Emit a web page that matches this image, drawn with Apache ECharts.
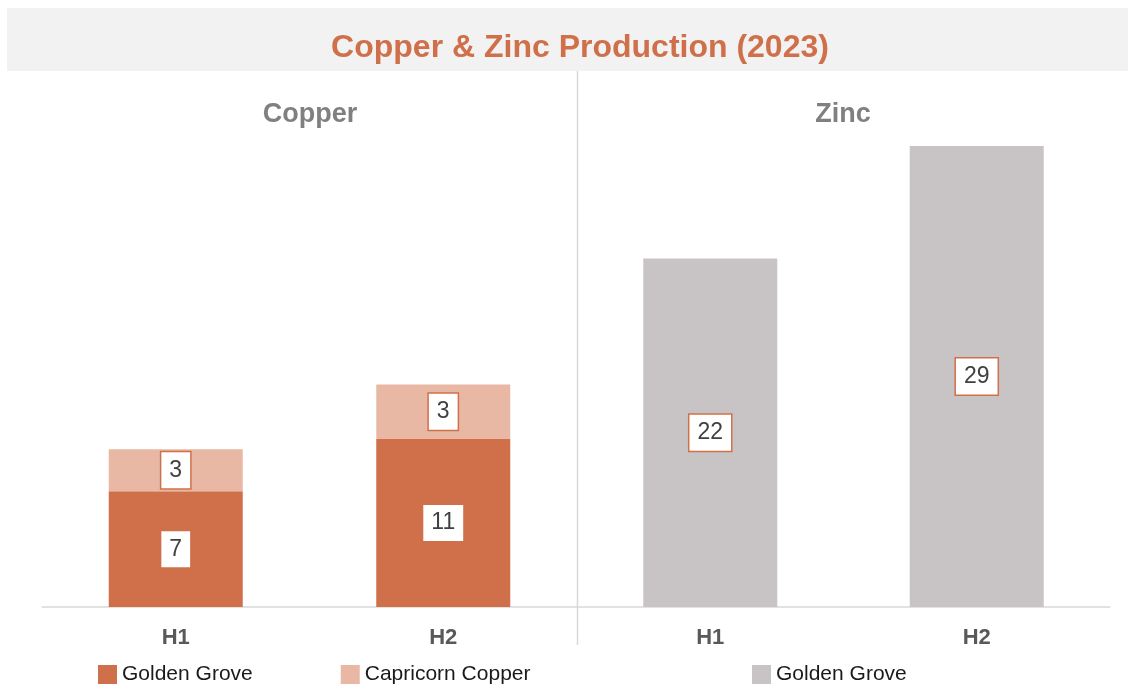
<!DOCTYPE html>
<html>
<head>
<meta charset="utf-8">
<script src="https://cdn.jsdelivr.net/npm/echarts@6/dist/echarts.min.js"></script>
<style>
  html, body { margin: 0; padding: 0; background: #fff; }
  #chart { width: 1128px; height: 684px; }
</style>
</head>
<body>
<div id="chart"></div>
<script>
// 数据
var halves = ['H1', 'H2'];
var copperGoldenGrove = [7.3, 10.6];
var copperCapricorn = [2.65, 3.45];
var zincGoldenGrove = [22.0, 29.1];

var orange = '#D0704A';
var lightOrange = '#E8B8A4';
var grey = '#C8C4C5';
var lineGrey = '#D9D9D9';
var font = 'Liberation Sans, Arial, sans-serif';

// 数据标签样式
var boxLabel = {
  show: true,
  position: 'inside',
  formatter: function (p) { return Math.round(p.value); },
  fontFamily: font,
  fontSize: 23,
  color: '#404040',
  backgroundColor: '#fff',
  borderColor: orange,
  borderWidth: 1.5,
  padding: [7, 8, 6, 8]
};

function xAxisFor(idx) {
  return {
    type: 'category',
    gridIndex: idx,
    data: halves,
    axisTick: { show: false },
    axisLine: { lineStyle: { color: lineGrey, width: 1.5 } },
    axisLabel: {
      margin: 20,
      fontFamily: font,
      fontSize: 22,
      fontWeight: 'bold',
      color: '#595959'
    }
  };
}

function yAxisFor(idx) {
  return {
    type: 'value',
    gridIndex: idx,
    min: 0,
    max: 32,
    show: false,
    splitLine: { show: false }
  };
}

var chart = echarts.init(document.getElementById('chart'));
chart.setOption({
  animation: false,
  graphic: [
    {
      type: 'rect',
      z: -10,
      shape: { x: 7, y: 8, width: 1121, height: 63 },
      style: { fill: '#F2F2F2' }
    },
    {
      type: 'line',
      shape: { x1: 577.5, y1: 71, x2: 577.5, y2: 645 },
      style: { stroke: lineGrey, lineWidth: 1.5 }
    }
  ],
  title: [
    {
      text: 'Copper & Zinc Production (2023)',
      left: 575,
      textAlign: 'center',
      top: 27,
      textStyle: { fontFamily: font, fontSize: 32, fontWeight: 'bold', color: orange }
    },
    {
      text: 'Copper',
      left: 305,
      textAlign: 'center',
      top: 96,
      textStyle: { fontFamily: font, fontSize: 27, fontWeight: 'bold', color: '#808080' }
    },
    {
      text: 'Zinc',
      left: 838,
      textAlign: 'center',
      top: 96,
      textStyle: { fontFamily: font, fontSize: 27, fontWeight: 'bold', color: '#808080' }
    }
  ],
  legend: [
    {
      left: 93,
      top: 659,
      itemWidth: 19,
      itemHeight: 19,
      itemGap: 88,
      icon: 'rect',
      data: ['Golden Grove', 'Capricorn Copper'],
      textStyle: { fontFamily: font, fontSize: 21, color: '#1a1a1a' }
    },
    {
      left: 747,
      top: 659,
      itemWidth: 19,
      itemHeight: 19,
      icon: 'rect',
      data: ['Zinc Golden Grove'],
      formatter: function () { return 'Golden Grove'; },
      textStyle: { fontFamily: font, fontSize: 21, color: '#1a1a1a' }
    }
  ],
  grid: [
    { left: 42, width: 535, top: 100, bottom: 77 },
    { left: 577, width: 533, top: 100, bottom: 77 }
  ],
  xAxis: [xAxisFor(0), xAxisFor(1)],
  yAxis: [yAxisFor(0), yAxisFor(1)],
  series: [
    {
      name: 'Golden Grove',
      type: 'bar',
      stack: 'cu',
      xAxisIndex: 0,
      yAxisIndex: 0,
      barWidth: 134,
      data: copperGoldenGrove,
      itemStyle: { color: orange },
      label: boxLabel
    },
    {
      name: 'Capricorn Copper',
      type: 'bar',
      stack: 'cu',
      xAxisIndex: 0,
      yAxisIndex: 0,
      barWidth: 134,
      data: copperCapricorn,
      itemStyle: { color: lightOrange },
      label: boxLabel
    },
    {
      name: 'Zinc Golden Grove',
      type: 'bar',
      xAxisIndex: 1,
      yAxisIndex: 1,
      barWidth: 134,
      data: zincGoldenGrove,
      itemStyle: { color: grey },
      label: boxLabel
    }
  ]
});
</script>
</body>
</html>
